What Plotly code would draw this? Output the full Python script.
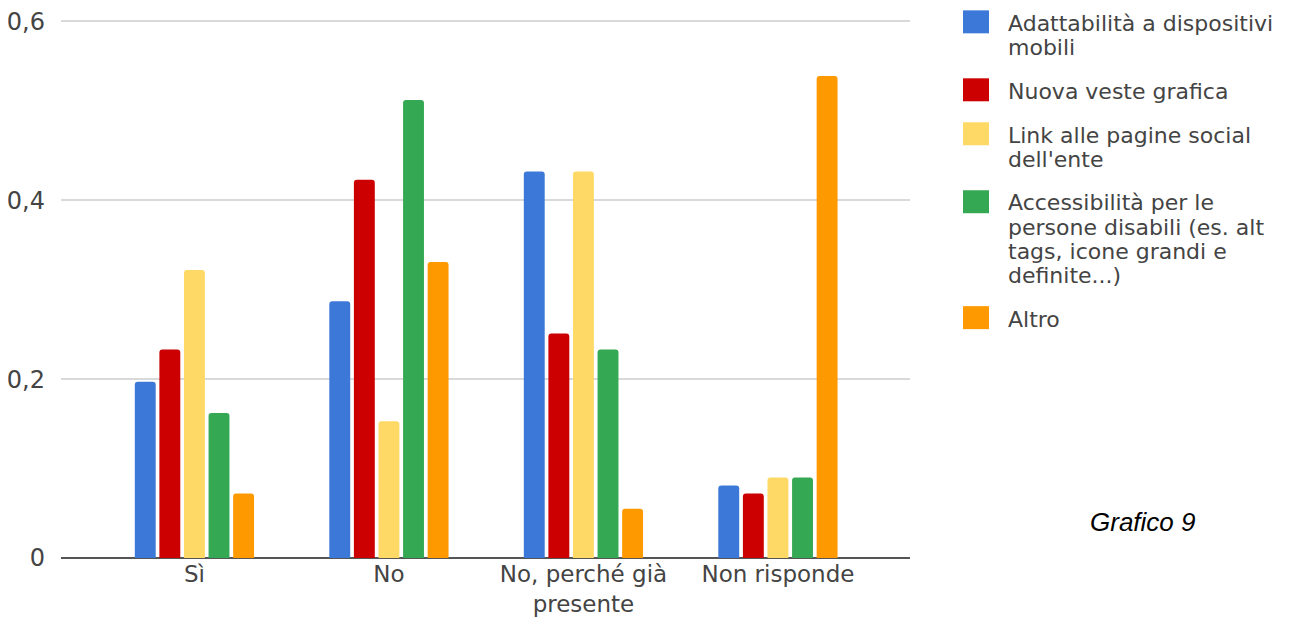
import plotly.graph_objects as go

categories = ["Sì", "No", "No, perché già<br>presente", "Non risponde"]
series_names = [
    "Adattabilità a dispositivi mobili",
    "Nuova veste grafica",
    "Link alle pagine social dell'ente",
    "Accessibilità per le persone disabili (es. alt tags, icone grandi e definite...)",
    "Altro",
]
adattabilita = [0.197, 0.287, 0.432, 0.081]
veste_grafica = [0.233, 0.423, 0.251, 0.072]
link_social = [0.322, 0.153, 0.432, 0.090]
accessibilita = [0.162, 0.512, 0.233, 0.090]
altro = [0.072, 0.331, 0.055, 0.539]
colors = ["#3c78d8", "#cc0000", "#ffd966", "#34a853", "#ff9900"]
legend_lines = [
    ["Adattabilità a dispositivi", "mobili"],
    ["Nuova veste grafica"],
    ["Link alle pagine social", "dell'ente"],
    ["Accessibilità per le", "persone disabili (es. alt", "tags, icone grandi e", "definite...)"],
    ["Altro"],
]
ytick_vals = [0, 0.2, 0.4, 0.6]
ytick_text = ["0", "0,2", "0,4", "0,6"]

OFF = 8  # page body margin
W, H = 1311 - OFF, 621 - OFF
# plot area in screenshot pixels
L, R, T, B = 61, 910, 21, 558
FONT = "DejaVu Sans"
YMAX = 0.6015


def px(xp):
    return (xp - L) / (R - L)


def py(yp):
    return (B - yp) / (B - T) * 0.6 / YMAX


fig = go.Figure()
for name, vals, col in zip(series_names, [adattabilita, veste_grafica, link_social, accessibilita, altro], colors):
    fig.add_trace(go.Bar(x=list(range(len(categories))), y=vals, name=name,
                         marker=dict(color=col, line=dict(width=0), cornerradius=3),
                         showlegend=False))

shapes = []
annotations = []
sq_tops = [10, 78, 122, 190, 306]
line_centers = [[21, 45], [89], [133, 157], [200, 225, 249, 273], [317]]
for col, top, lines, centers in zip(colors, sq_tops, legend_lines, line_centers):
    shapes.append(dict(type="rect", xref="paper", yref="paper",
                       x0=px(963), x1=px(989), y0=py(top + 23), y1=py(top),
                       fillcolor=col, line=dict(width=0), layer="above"))
    for txt, c in zip(lines, centers):
        annotations.append(dict(text=txt, xref="paper", yref="paper", x=px(1007), y=py(c + 2),
                                xanchor="left", yanchor="middle", showarrow=False, borderpad=0,
                                font=dict(family=FONT, size=22, color="#444444")))

annotations.append(dict(text="<i>Grafico 9</i>", xref="paper", yref="paper", x=px(1143), y=py(522),
                        xanchor="center", yanchor="middle", showarrow=False,
                        font=dict(family="Liberation Sans", size=26, color="#000000")))

top_fig = B - OFF - (B - T) * YMAX / 0.6
fig.update_layout(
    width=W, height=H,
    margin=dict(l=L - OFF, r=W - (R - OFF), t=top_fig, b=H - (B - OFF), pad=0, autoexpand=False),
    paper_bgcolor="white", plot_bgcolor="white",
    barmode="group", bargap=0.368, bargroupgap=0.15,
    font=dict(family=FONT, size=24, color="#444444"),
    shapes=shapes, annotations=annotations,
    xaxis=dict(range=[-0.686, 3.679], tickmode="array", tickvals=list(range(len(categories))),
               ticktext=categories, showgrid=False, zeroline=False, showline=False, ticks="",
               automargin=False, ticklabeloverflow="allow",
               tickfont=dict(family=FONT, size=23, color="#444444")),
    yaxis=dict(range=[0, YMAX], tickmode="array", tickvals=ytick_vals, ticktext=ytick_text,
               showgrid=True, gridcolor="#d9d9d9", gridwidth=2, zeroline=True,
               zerolinecolor="#555555", zerolinewidth=2, ticks="", ticklabelstandoff=15,
               automargin=False, showline=False, ticklabeloverflow="allow",
               tickfont=dict(family=FONT, size=24, color="#444444")),
)

fig.write_html("out.html")
